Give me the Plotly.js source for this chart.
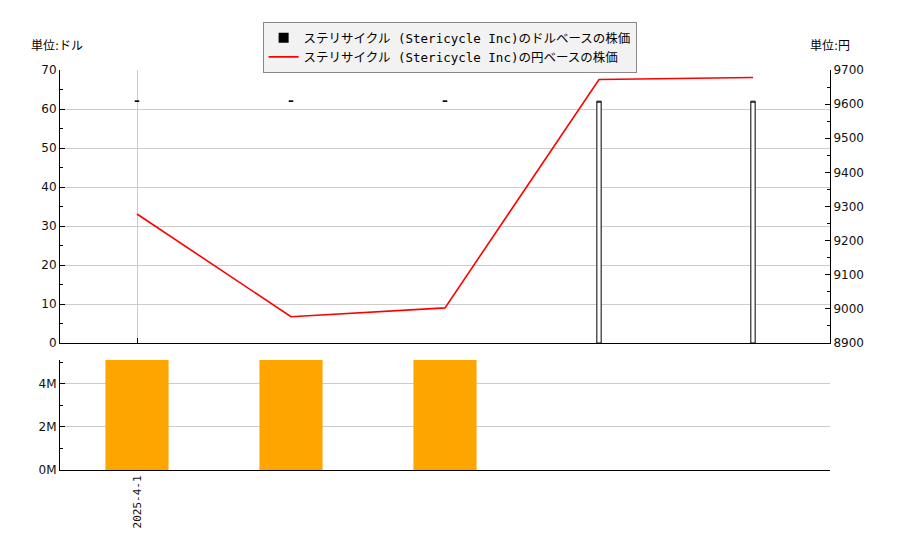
<!DOCTYPE html>
<html>
<head>
<meta charset="utf-8">
<script src="https://cdn.plot.ly/plotly-3.0.1.min.js"></script>
<style>
  body { margin: 0; background: #fff; }
  #chart { width: 900px; height: 550px; }
</style>
</head>
<body>
<div id="chart"></div>
<script>
// months shown on the chart (only the first one carries a label)
var dates = ['2025-4-1', '2025-5-1', '2025-6-1', '2025-7-1', '2025-8-1'];
var tickDates = ['2025-4-1'];

// dollar prices (candles)
var usdOpen  = [62, 62, 62, 0, 0];
var usdHigh  = [62, 62, 62, 62, 62];
var usdLow   = [62, 62, 62, 0, 0];
var usdClose = [62, 62, 62, 62, 62];

// yen price line
var jpyPrice = [9278, 8977, 9003, 9672, 9678];

// volume
var volume = [5.1e6, 5.1e6, 5.1e6, 0, 0];
var volTickVals = [0, 2e6, 4e6];
var volTickText = ['0M', '2M', '4M'];

var nameUsd = 'ステリサイクル (Stericycle Inc)のドルベースの株価';
var nameJpy = 'ステリサイクル (Stericycle Inc)の円ベースの株価';

var fontMain = 'DejaVu Sans, Noto Sans CJK JP, sans-serif';
var fontLegend = 'DejaVu Sans Mono, Noto Sans CJK JP, monospace';

var candles = {
    type: 'candlestick',
    x: dates, open: usdOpen, high: usdHigh, low: usdLow, close: usdClose,
    xaxis: 'x', yaxis: 'y',
    increasing: {line: {color: '#000', width: 1}, fillcolor: '#fff'},
    decreasing: {line: {color: '#000', width: 1}, fillcolor: '#fff'},
    whiskerwidth: 0,
    showlegend: false,
    hoverinfo: 'skip'
};

// legend stand-in for the candles (black square)
var candleKey = {
    type: 'scatter', mode: 'markers',
    x: [null], y: [null], xaxis: 'x', yaxis: 'y',
    marker: {symbol: 'square', color: '#000', size: 10},
    name: nameUsd
};

var yenLine = {
    type: 'scatter', mode: 'lines',
    x: dates, y: jpyPrice,
    xaxis: 'x', yaxis: 'y2',
    line: {color: '#ff0000', width: 1.6},
    name: nameJpy
};

var volBars = {
    type: 'bar',
    x: dates, y: volume,
    xaxis: 'x2', yaxis: 'y3',
    marker: {color: '#ffa500'},
    width: 0.41,
    showlegend: false
};

var layout = {
    width: 900, height: 550,
    margin: {l: 60, r: 70, t: 70, b: 80},
    paper_bgcolor: '#fff', plot_bgcolor: '#fff',
    font: {family: fontMain, size: 12, color: '#111'},
    boxgap: 0.96,
    showlegend: true,
    legend: {
        x: 0.506, xanchor: 'center', y: 1.12, yanchor: 'top',
        bgcolor: '#f2f2f2', bordercolor: '#888', borderwidth: 1,
        font: {family: fontLegend, size: 12.5, color: '#000'},
        itemwidth: 30, tracegroupgap: 0
    },
    xaxis: {
        type: 'category', range: [-0.5, 4.5], anchor: 'y',
        tickmode: 'array', tickvals: tickDates, ticktext: [''],
        ticks: 'inside', ticklen: 5, tickcolor: '#000',
        showgrid: true, gridcolor: '#ccc',
        showline: true, linecolor: '#000', linewidth: 1,
        rangeslider: {visible: false},
        fixedrange: true
    },
    yaxis: {
        domain: [0.3175, 1], range: [0, 70], dtick: 10,
        ticks: 'inside', ticklen: 5, tickcolor: '#000',
        minor: {dtick: 5, ticks: 'inside', ticklen: 3, tickcolor: '#000', showgrid: false},
        showgrid: true, gridcolor: '#ccc',
        showline: true, linecolor: '#000', zeroline: false
    },
    yaxis2: {
        overlaying: 'y', side: 'right', anchor: 'x',
        range: [8900, 9700], dtick: 100,
        ticks: 'inside', ticklen: 5, tickcolor: '#000',
        minor: {dtick: 50, ticks: 'inside', ticklen: 3, tickcolor: '#000', showgrid: false},
        showgrid: false, showline: true, linecolor: '#000', zeroline: false
    },
    xaxis2: {
        type: 'category', range: [-0.5, 4.5], anchor: 'y3',
        tickmode: 'array', tickvals: tickDates,
        tickangle: -90, ticks: '', showgrid: false,
        showline: true, linecolor: '#000',
        tickfont: {family: 'DejaVu Sans Mono, monospace', size: 11}
    },
    yaxis3: {
        domain: [0, 0.275], range: [0, 5.1e6], anchor: 'x2',
        tickmode: 'array', tickvals: volTickVals, ticktext: volTickText,
        ticks: 'inside', ticklen: 5, tickcolor: '#000',
        minor: {tickmode: 'linear', tick0: 0, dtick: 1e6, ticks: 'inside', ticklen: 3, tickcolor: '#000', showgrid: false},
        showgrid: true, gridcolor: '#ccc',
        showline: true, linecolor: '#000', zeroline: false
    },
    annotations: [
        {text: '単位:ドル', xref: 'paper', yref: 'paper', x: -0.004, y: 1.06,
         xanchor: 'center', yanchor: 'middle', showarrow: false, font: {size: 12, color: '#000'}},
        {text: '単位:円', xref: 'paper', yref: 'paper', x: 0.972, y: 1.06,
         xanchor: 'left', yanchor: 'middle', showarrow: false, font: {size: 12, color: '#000'}}
    ]
};

Plotly.newPlot('chart', [candles, candleKey, yenLine, volBars], layout, {displayModeBar: false, staticPlot: true});
</script>
</body>
</html>
